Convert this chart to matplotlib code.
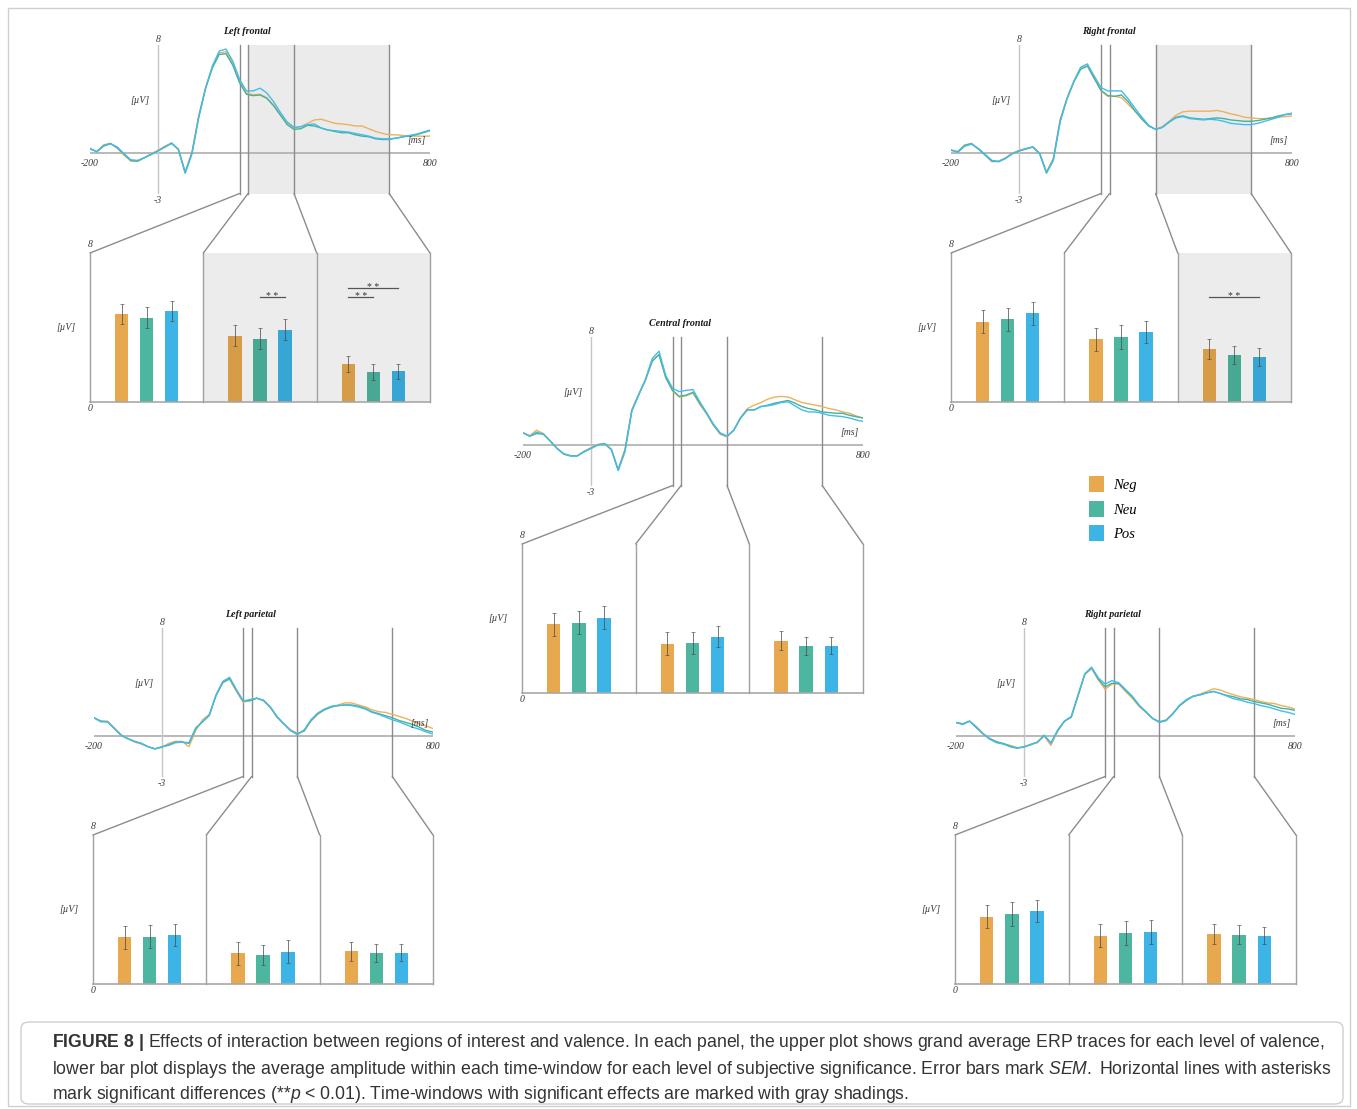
import numpy as np
import matplotlib.pyplot as plt
from matplotlib.patches import ConnectionPatch, Patch, Rectangle, FancyBboxPatch

# ---- data -----------------------------------------------------------------
times = np.arange(-200, 801, 20)
conditions = ['Neg', 'Neu', 'Pos']
windows = [240, 265, 400, 680]   # time-window borders (ms)

# grand average ERP traces (uV), one value every 20 ms from -200 to 800
lf_neg = [0.30, 0.12, 0.60, 0.72, 0.35, -0.15, -0.60, -0.62, -0.35, -0.05, 0.20, 0.50, 0.70, 0.30, -1.40, 0.10,
          2.80, 4.85, 6.40, 7.40, 7.50, 6.65, 5.30, 4.45, 4.30, 4.35, 4.10, 3.55, 2.85, 2.20, 1.85, 1.95, 2.20,
          2.45, 2.50, 2.35, 2.20, 2.15, 2.10, 2.00, 2.00, 1.80, 1.60, 1.45, 1.35, 1.35, 1.30, 1.25, 1.25, 1.25, 1.25]
lf_neu = [0.30, 0.10, 0.55, 0.70, 0.40, -0.10, -0.55, -0.60, -0.35, -0.10, 0.15, 0.45, 0.75, 0.25, -1.45, 0.00,
          2.70, 4.80, 6.30, 7.30, 7.35, 6.50, 5.20, 4.35, 4.25, 4.30, 4.05, 3.50, 2.80, 2.10, 1.75, 1.80, 2.05,
          2.00, 1.85, 1.70, 1.60, 1.50, 1.50, 1.35, 1.25, 1.20, 1.05, 1.00, 1.00, 1.10, 1.20, 1.25, 1.35, 1.50, 1.65]
lf_pos = [0.35, 0.08, 0.50, 0.68, 0.45, -0.05, -0.50, -0.55, -0.35, -0.12, 0.15, 0.42, 0.72, 0.25, -1.50, -0.05,
          2.65, 4.80, 6.45, 7.55, 7.70, 6.80, 5.45, 4.60, 4.60, 4.80, 4.45, 3.80, 3.00, 2.30, 1.90, 1.95, 2.10,
          2.15, 1.85, 1.70, 1.65, 1.60, 1.55, 1.45, 1.35, 1.25, 1.10, 1.05, 1.05, 1.10, 1.20, 1.30, 1.40, 1.55, 1.70]

rf_neg = [0.20, 0.10, 0.60, 0.70, 0.30, -0.15, -0.65, -0.60, -0.35, 0.00, 0.20, 0.35, 0.45, 0.00, -1.40, -0.40,
          2.50, 4.05, 5.30, 6.25, 6.45, 5.50, 4.60, 4.20, 4.20, 4.10, 3.60, 3.10, 2.55, 2.00, 1.75, 1.95, 2.35,
          2.80, 3.05, 3.10, 3.10, 3.10, 3.10, 3.15, 3.05, 2.90, 2.80, 2.65, 2.60, 2.55, 2.55, 2.60, 2.65, 2.70, 2.75]
rf_neu = [0.20, 0.10, 0.55, 0.70, 0.30, -0.15, -0.60, -0.65, -0.40, -0.05, 0.15, 0.30, 0.45, -0.05, -1.45, -0.50,
          2.35, 4.00, 5.25, 6.20, 6.45, 5.55, 4.65, 4.25, 4.20, 4.30, 3.80, 3.10, 2.50, 2.00, 1.75, 1.90, 2.30,
          2.65, 2.75, 2.60, 2.55, 2.50, 2.55, 2.60, 2.55, 2.45, 2.40, 2.35, 2.35, 2.40, 2.50, 2.60, 2.75, 2.85, 2.90]
rf_pos = [0.25, 0.05, 0.50, 0.65, 0.35, -0.10, -0.55, -0.62, -0.40, -0.05, 0.15, 0.30, 0.45, -0.05, -1.50, -0.55,
          2.30, 4.00, 5.30, 6.35, 6.60, 5.70, 4.85, 4.60, 4.60, 4.60, 4.00, 3.30, 2.65, 2.05, 1.75, 1.90, 2.30,
          2.60, 2.70, 2.55, 2.50, 2.45, 2.50, 2.45, 2.35, 2.20, 2.15, 2.10, 2.10, 2.20, 2.35, 2.50, 2.65, 2.85, 2.95]

cf_neg = [0.90, 0.70, 1.10, 0.85, 0.30, -0.25, -0.70, -0.82, -0.80, -0.45, -0.20, 0.05, 0.12, -0.30, -1.80, -0.30,
          2.60, 3.75, 4.80, 6.25, 6.70, 4.95, 4.00, 3.55, 3.65, 3.85, 3.00, 2.30, 1.45, 0.80, 0.60, 1.10, 2.05,
          2.70, 2.95, 3.15, 3.40, 3.55, 3.60, 3.55, 3.35, 3.15, 3.05, 2.95, 2.85, 2.70, 2.60, 2.45, 2.35, 2.15, 2.00]
cf_neu = [0.90, 0.65, 0.85, 0.80, 0.30, -0.25, -0.65, -0.80, -0.80, -0.50, -0.25, 0.00, 0.10, -0.35, -1.85, -0.40,
          2.55, 3.70, 4.80, 6.20, 6.70, 5.00, 4.05, 3.60, 3.70, 3.90, 3.10, 2.35, 1.50, 0.85, 0.65, 1.10, 2.00,
          2.60, 2.60, 2.85, 2.95, 3.10, 3.20, 3.30, 3.10, 2.85, 2.70, 2.60, 2.45, 2.40, 2.35, 2.35, 2.20, 2.10, 2.00]
cf_pos = [0.90, 0.65, 0.95, 0.80, 0.30, -0.25, -0.65, -0.80, -0.80, -0.50, -0.25, 0.00, 0.10, -0.35, -1.90, -0.50,
          2.50, 3.70, 4.85, 6.40, 6.95, 5.15, 4.20, 3.95, 4.05, 4.10, 3.20, 2.40, 1.55, 0.90, 0.65, 1.10, 2.00,
          2.60, 2.60, 2.85, 2.90, 3.00, 3.15, 3.20, 2.90, 2.60, 2.45, 2.45, 2.35, 2.20, 2.15, 2.10, 2.00, 1.85, 1.75]

lp_neg = [1.35, 1.10, 1.10, 0.60, 0.10, -0.20, -0.45, -0.60, -0.80, -0.95, -0.85, -0.55, -0.40, -0.40, -0.80, 0.40,
          1.20, 1.60, 3.00, 4.00, 4.20, 3.30, 2.50, 2.65, 2.80, 2.60, 2.10, 1.40, 0.90, 0.45, 0.20, 0.35, 1.10,
          1.60, 1.95, 2.15, 2.30, 2.45, 2.45, 2.30, 2.15, 1.95, 1.80, 1.75, 1.60, 1.45, 1.30, 1.10, 0.90, 0.75, 0.55]
lp_neu = [1.35, 1.10, 1.05, 0.55, 0.05, -0.20, -0.40, -0.55, -0.80, -0.95, -0.80, -0.65, -0.45, -0.45, -0.55, 0.55,
          1.05, 1.55, 3.00, 3.95, 4.25, 3.40, 2.60, 2.60, 2.80, 2.65, 2.15, 1.40, 0.90, 0.40, 0.15, 0.40, 1.15,
          1.65, 1.95, 2.15, 2.25, 2.30, 2.30, 2.20, 2.05, 1.80, 1.65, 1.50, 1.35, 1.15, 1.00, 0.85, 0.65, 0.40, 0.30]
lp_pos = [1.35, 1.05, 1.05, 0.55, 0.05, -0.20, -0.40, -0.55, -0.80, -0.95, -0.80, -0.70, -0.50, -0.45, -0.50, 0.60,
          1.05, 1.50, 3.05, 4.05, 4.35, 3.45, 2.60, 2.70, 2.80, 2.65, 2.15, 1.45, 0.90, 0.40, 0.10, 0.45, 1.20,
          1.70, 2.00, 2.20, 2.25, 2.30, 2.25, 2.15, 2.00, 1.75, 1.60, 1.40, 1.20, 1.05, 0.85, 0.65, 0.50, 0.30, 0.15]

rp_neg = [1.00, 0.90, 1.10, 0.70, 0.20, -0.20, -0.40, -0.60, -0.70, -0.85, -0.85, -0.60, -0.50, 0.00, -0.70, 0.35,
          1.10, 1.40, 2.95, 4.55, 5.00, 4.15, 3.45, 3.85, 3.85, 3.30, 2.80, 2.20, 1.75, 1.30, 1.05, 1.20, 1.70,
          2.25, 2.65, 2.95, 3.10, 3.30, 3.50, 3.40, 3.20, 3.05, 2.90, 2.80, 2.70, 2.55, 2.45, 2.40, 2.25, 2.15, 2.00]
rp_neu = [1.00, 0.90, 1.10, 0.65, 0.15, -0.20, -0.45, -0.55, -0.75, -0.90, -0.80, -0.65, -0.45, 0.05, -0.50, 0.40,
          1.10, 1.40, 3.00, 4.60, 5.05, 4.20, 3.65, 3.90, 3.90, 3.40, 2.90, 2.25, 1.80, 1.30, 1.05, 1.15, 1.65,
          2.25, 2.65, 2.95, 3.05, 3.20, 3.30, 3.15, 3.00, 2.90, 2.75, 2.70, 2.55, 2.45, 2.35, 2.20, 2.05, 2.00, 1.90]
rp_pos = [1.00, 0.85, 1.10, 0.60, 0.15, -0.25, -0.50, -0.60, -0.80, -0.90, -0.80, -0.65, -0.45, 0.05, -0.55, 0.45,
          1.10, 1.45, 3.05, 4.60, 5.10, 4.30, 3.85, 4.10, 3.95, 3.45, 2.95, 2.30, 1.80, 1.30, 1.00, 1.15, 1.65,
          2.30, 2.70, 2.95, 3.05, 3.20, 3.30, 3.15, 2.95, 2.75, 2.65, 2.50, 2.40, 2.25, 2.15, 2.00, 1.85, 1.75, 1.60]

# mean amplitude per time-window (rows) and valence (Neg, Neu, Pos), with SEM
lf_means = [[4.73, 4.53, 4.89], [3.57, 3.40, 3.87], [2.04, 1.61, 1.65]]
lf_sems = [[0.53, 0.57, 0.54], [0.54, 0.55, 0.56], [0.45, 0.43, 0.41]]
rf_means = [[4.32, 4.44, 4.77], [3.37, 3.51, 3.76], [2.85, 2.53, 2.40]]
rf_sems = [[0.62, 0.63, 0.61], [0.61, 0.65, 0.59], [0.52, 0.48, 0.48]]
cf_means = [[3.68, 3.78, 4.05], [2.65, 2.70, 3.03], [2.81, 2.54, 2.54]]
cf_sems = [[0.60, 0.62, 0.60], [0.60, 0.60, 0.57], [0.50, 0.48, 0.45]]
lp_means = [[2.51, 2.54, 2.63], [1.65, 1.56, 1.74], [1.77, 1.65, 1.68]]
lp_sems = [[0.62, 0.63, 0.59], [0.61, 0.54, 0.62], [0.51, 0.49, 0.45]]
rp_means = [[3.62, 3.76, 3.92], [2.60, 2.72, 2.78], [2.70, 2.65, 2.60]]
rp_sems = [[0.60, 0.65, 0.60], [0.62, 0.64, 0.63], [0.53, 0.50, 0.47]]

# significant pairs: (window, cond a, cond b, height)
lf_sig = [(1, 1, 2, 5.65), (2, 0, 1, 5.65), (2, 0, 2, 6.13)]
rf_sig = [(2, 0, 2, 5.65)]

# ---- style ----------------------------------------------------------------
bar_colors = ['#E8A94E', '#4DB6A0', '#3DB4E6']
line_colors = ['#ECB060', '#46B29A', '#45BBEC']
SERIF = 'Liberation Serif'
GRID = '#8c8c8c'

W, H = 1357, 1109
fig = plt.figure(figsize=(W / 100, H / 100), dpi=100)
plt.rcParams['mathtext.fontset'] = 'custom'
plt.rcParams['mathtext.rm'] = 'Liberation Sans'
plt.rcParams['mathtext.it'] = 'Liberation Sans:italic'
plt.rcParams['mathtext.bf'] = 'Liberation Sans:bold'


def box(x0, y0, x1, y1):
    return [x0 / W, 1 - y1 / H, (x1 - x0) / W, (y1 - y0) / H]


def small(ax, x, y, s, **kw):
    ax.text(x, y, s, family=SERIF, style='italic', fontsize=7, color='#3a3a3a',
            ha='center', va='center', **kw)


def draw_region(erp_box, bar_box, title, traces, means, sems, erp_shade, bar_shade, sig):
    ax = fig.add_axes(box(*erp_box))
    ax.set_xlim(-200, 800)
    ax.set_ylim(-3, 8)
    ax.axis('off')
    if erp_shade:
        ax.axvspan(erp_shade[0], erp_shade[1], color='#ebebeb', lw=0, zorder=0)
    ax.plot([-200, 800], [0, 0], color='#b3b3b3', lw=1.3, zorder=1)
    ax.plot([0, 0], [-3, 8], color='#c6c6c6', lw=1, zorder=1)
    for wt in windows:
        ax.plot([wt, wt], [-3, 8], color=GRID, lw=1, zorder=2, clip_on=False)
    for y, c in zip(traces, line_colors):
        ax.plot(times, y, color=c, lw=1.0, zorder=3, solid_joinstyle='round')
    small(ax, -200, -0.75, '-200')
    small(ax, 800, -0.75, '800')
    small(ax, 0, 8.4, '8')
    small(ax, 0, -3.5, '-3')
    small(ax, -52, 3.9, '[µV]')
    small(ax, 760, 0.9, '[ms]')
    ax.text(262, 9.0, title, family=SERIF, style='italic', weight='bold', fontsize=7.2,
            color='#1a1a1a', ha='center', va='center')

    bx = fig.add_axes(box(*bar_box))
    bx.set_xlim(0, 3)
    bx.set_ylim(0, 8)
    bx.axis('off')
    offs = [-0.221, 0, 0.221]
    for k in range(3):
        xs = [g + 0.5 + offs[k] for g in range(3)]
        ys = [means[g][k] for g in range(3)]
        es = [sems[g][k] for g in range(3)]
        bx.bar(xs, ys, width=0.118, color=bar_colors[k], zorder=2)
        bx.errorbar(xs, ys, yerr=es, fmt='none', ecolor='#4a4a4a', elinewidth=0.7,
                    capsize=1.6, capthick=0.6, alpha=0.75, zorder=5)
    for g in bar_shade:
        bx.axvspan(g, g + 1, color='black', alpha=0.075, lw=0, zorder=4)
    bx.plot([0, 3], [0, 0], color='#a8a8a8', lw=1.2, zorder=6, clip_on=False)
    for xb in [0, 1, 2, 3]:
        bx.plot([xb, xb], [0, 8], color='#a0a0a0', lw=1, zorder=6, clip_on=False)
    small(bx, 0, 8.45, '8')
    small(bx, 0, -0.35, '0')
    small(bx, -0.21, 4.0, '[µV]')
    for g, a, b, h in sig:
        x1, x2 = g + 0.5 + offs[a], g + 0.5 + offs[b]
        bx.plot([x1, x2], [h, h], color='#555555', lw=0.9, zorder=6)
        bx.text((x1 + x2) / 2, h - 0.12, '* *', family=SERIF, fontsize=7, color='#333333',
                ha='center', va='baseline', zorder=7)

    for wt, xb in zip(windows, [0, 1, 2, 3]):
        con = ConnectionPatch(xyA=(wt, -3), coordsA=ax.transData, xyB=(xb, 8), coordsB=bx.transData,
                              color=GRID, lw=1)
        fig.add_artist(con)


draw_region((90, 45, 430, 193.5), (90, 253, 430, 402), 'Left frontal',
            [lf_neg, lf_neu, lf_pos], lf_means, lf_sems, (265, 680), [1, 2], lf_sig)
draw_region((951, 45, 1292, 193.5), (951, 253, 1291, 402), 'Right frontal',
            [rf_neg, rf_neu, rf_pos], rf_means, rf_sems, (400, 680), [2], rf_sig)
draw_region((523, 337, 863, 485.5), (522, 544, 863, 693), 'Central frontal',
            [cf_neg, cf_neu, cf_pos], cf_means, cf_sems, None, [], [])
draw_region((94, 628, 433, 776.5), (93, 835, 433, 984), 'Left parietal',
            [lp_neg, lp_neu, lp_pos], lp_means, lp_sems, None, [], [])
draw_region((956, 628, 1295, 776.5), (955, 835, 1296, 984), 'Right parietal',
            [rp_neg, rp_neu, rp_pos], rp_means, rp_sems, None, [], [])

# legend
handles = [Patch(facecolor=c, edgecolor='none', label=l) for c, l in zip(bar_colors, conditions)]
fig.legend(handles=handles, loc='upper left', bbox_to_anchor=(1076 / W, 1 - 463 / H), frameon=False,
           handlelength=1.0, handleheight=1.35, labelspacing=0.55, handletextpad=0.65,
           prop={'family': SERIF, 'style': 'italic', 'size': 10.5})

# frame and caption box
fig.add_artist(Rectangle((8 / W, 1 - 1106 / H), 1342 / W, 1098 / H, transform=fig.transFigure,
                         fill=False, edgecolor='#cfcfcf', lw=1))
fig.add_artist(FancyBboxPatch((21 / W, 1 - 1104 / H), 1322 / W, 82 / H, transform=fig.transFigure,
                              boxstyle='round,pad=0,rounding_size=0.006', fill=False,
                              edgecolor='#cfcfcf', lw=1))

cap = [r"$\mathbf{FIGURE\ 8\ |}$ Effects of interaction between regions of interest and valence. "
       r"In each panel, the upper plot shows grand average ERP traces for each level of valence,",
       r"lower bar plot displays the average amplitude within each time-window for each level of "
       r"subjective significance. Error bars mark $\mathit{SEM.}$ Horizontal lines with asterisks",
       r"mark significant differences (**$p$ < 0.01). Time-windows with significant effects are "
       r"marked with gray shadings."]
texts = []
for s, yb in zip(cap, [1047, 1074, 1099]):
    texts.append(fig.text(52 / W, 1 - yb / H, s, family='Liberation Sans', fontsize=12,
                          color='#333333', ha='left', va='baseline'))
r = fig.canvas.get_renderer()
wpx = texts[1].get_window_extent(r).width
fs = 12 * 1278 / wpx
for t in texts:
    t.set_fontsize(fs)

fig.savefig('out.png', dpi=100)
